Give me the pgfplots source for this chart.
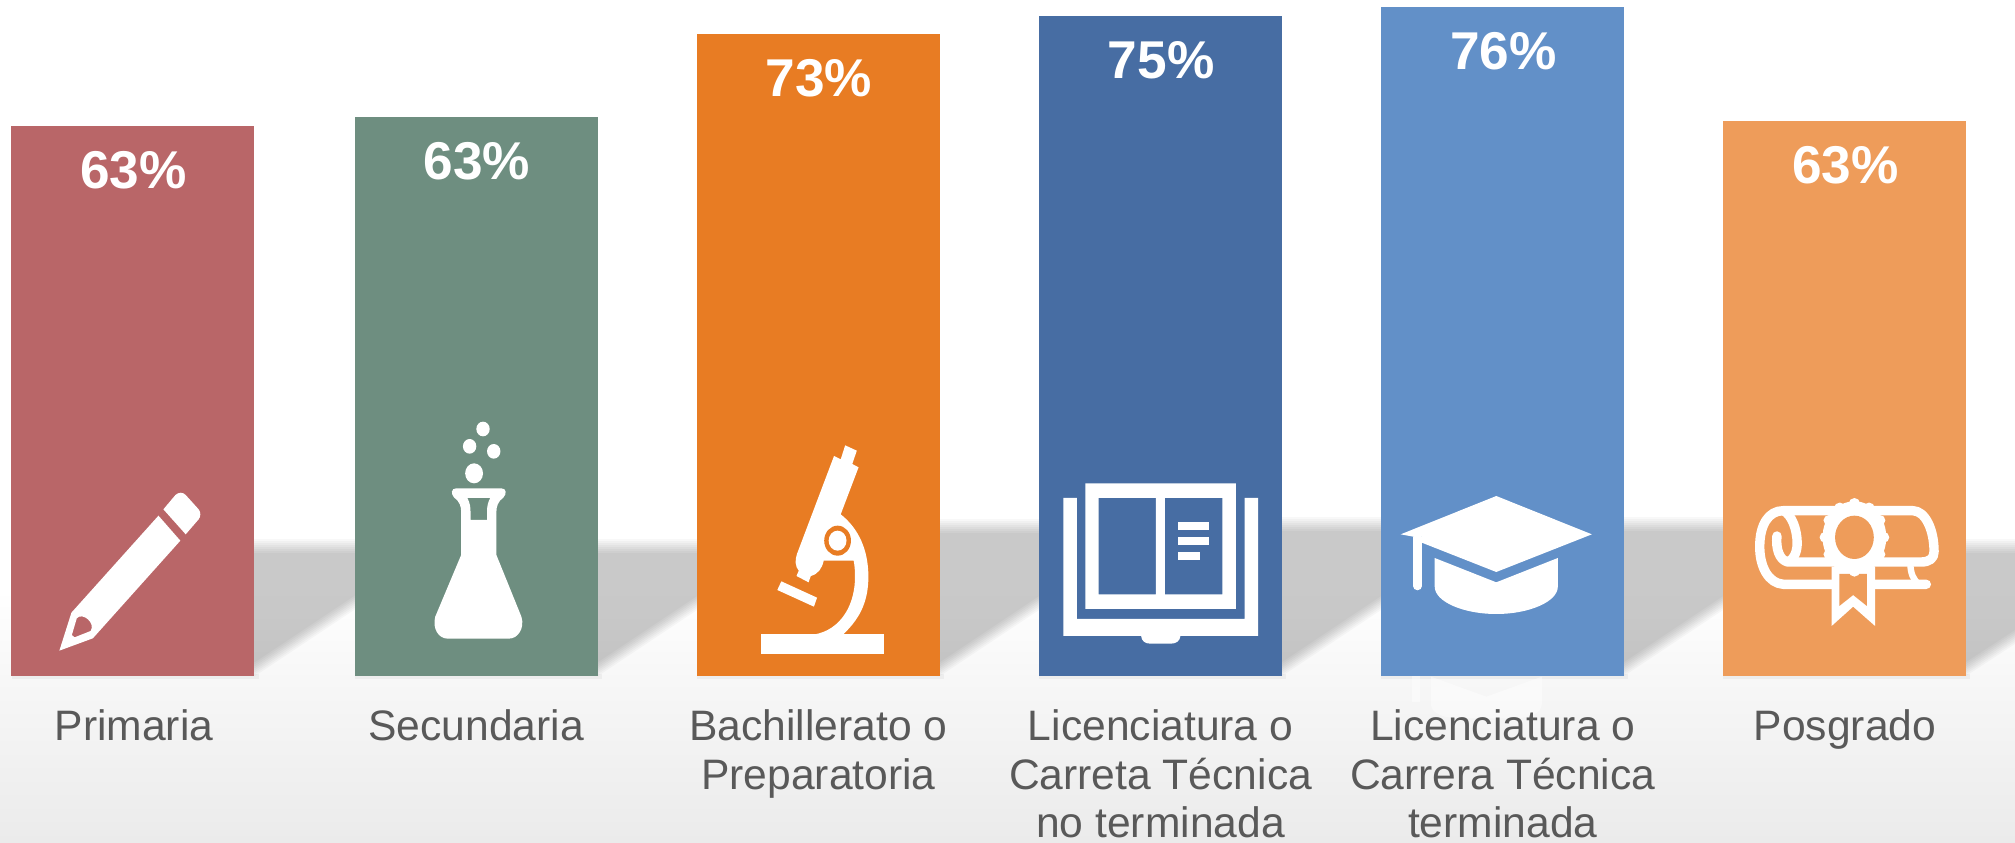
\documentclass[border=0pt]{standalone}
\usepackage{fontspec}
\setmainfont{Liberation Sans}
\usepackage{pgfplots}
\pgfplotsset{compat=1.18}
\definecolor{cA}{HTML}{B96668}
\definecolor{cB}{HTML}{6E8E80}
\definecolor{cC}{HTML}{E87C23}
\definecolor{cD}{HTML}{476DA3}
\definecolor{cE}{HTML}{6290C8}
\definecolor{cF}{HTML}{EE9C5A}
\definecolor{lab}{HTML}{595959}
\definecolor{bgA}{HTML}{F7F7F7}
\definecolor{bgB}{HTML}{EBEBEB}
\newcommand\gapshadow[3]{%
  \foreach \d in {0,2,...,14}{%
    \fill[black,opacity=0.0285] ({#1-4},{#3+\d}) -- (#2+2,{#3+\d}) -- (#2+2,{676-0.68*(#2-#1)-\d}) -- (#1,{676-\d}) -- ({#1-4},{676-\d}) -- cycle;
  }%
}
\begin{document}
\begin{tikzpicture}
\begin{scope}[shift={(0,337.75pt)},x=0.5pt,y=-0.5pt]
  \path[use as bounding box] (0,0) rectangle (2015,842);
  % page background
  \fill[white] (0,0) rectangle (2015,842);
  \shade[top color=white,bottom color=bgA] (0,590) rectangle (2015,680);
  \shade[top color=bgA,bottom color=bgB] (0,680) rectangle (2015,842);
  % cast shadows
  \gapshadow{255}{355}{539}
  \gapshadow{598}{697}{539}
  \gapshadow{940}{1039}{519}
  \gapshadow{1282}{1381}{517}
  \gapshadow{1624}{1723}{517}
  \gapshadow{1966}{2016}{539}
  % contact shadow below bars
  \foreach \a in {12,355,697,1039,1381,1723}{
    \fill[black,opacity=0.04] (\a,674) rectangle ({\a+247},679);
  }
  % faint reflection of the cap
  \begin{scope}[shift={(1340,420)},x=0.5pt/2.323,y=-0.5pt/3]
    \fill[white,opacity=0.45] (167,760) rectangle (185,845);
    \fill[white,opacity=0.45] (211,770) -- (340,830) -- (469,770) -- (469,850) .. controls (469,880) and (440,895) .. (400,895) -- (280,895) .. controls (240,895) and (211,880) .. (211,850) -- cycle;
  \end{scope}
\end{scope}

\begin{axis}[
  at={(0,0)},anchor=south west,
  scale only axis,width=1007.5pt,height=337.75pt,
  xmin=-0.3916,xmax=5.4967,ymin=0,ymax=76.85,
  axis x line=bottom,axis y line=none,
  x axis line style={draw=none,-},
  xtick={0,1,2,3,4,5},
  xticklabels={Primaria,Secundaria,{Bachillerato o\\Preparatoria},{Licenciatura o\\Carreta Técnica\\no terminada},{Licenciatura o\\Carrera Técnica\\terminada},Posgrado},
  major tick length=0pt,xtick style={draw=none},
  xticklabel style={align=center,text=lab,font=\fontsize{21.3}{24.25}\selectfont,anchor=north,inner sep=0pt,yshift=-17pt},
  ybar,bar width=121.5pt,bar shift=0pt,
  point meta=explicit symbolic,
  nodes near coords,
  every node near coord/.append style={anchor=center,yshift=-22pt,xshift=0.3pt,text=white,font=\bfseries\fontsize{26.6}{30}\selectfont},
]
\addplot[fill=cA,draw=none] coordinates {(-0.003,62.5) [63\%]};
\addplot[fill=cB,draw=none] coordinates {(1,63.5) [63\%]};
\addplot[fill=cC,draw=none] coordinates {(2,72.95) [73\%]};
\addplot[fill=cD,draw=none] coordinates {(3,75) [75\%]};
\addplot[fill=cE,draw=none] coordinates {(4,76) [76\%]};
\addplot[fill=cF,draw=none] coordinates {(5,63.1) [63\%]};
\end{axis}

\begin{scope}[shift={(0,337.75pt)},x=0.5pt,y=-0.5pt]
% pencil and flask
\begin{scope}[shift={(0,420)},x=0.5pt/2.24,y=-0.5pt/3]
  \fill[white,even odd rule] (133,692) -- (160,578) -- (355,287) -- (404,362) -- (208,655) -- cycle
    (161,645) -- (172,595) .. controls (185,575) and (215,610) .. (203,633) -- (167,652) -- cycle;
  \fill[white] (366,268) -- (393,225) .. controls (400,216) and (410,216) .. (416,225) -- (445,268) .. controls (450,276) and (450,290) .. (445,298) -- (416,343) -- cycle;
  \fill[white] (1082,27) ellipse [x radius=15,y radius=22];
  \fill[white] (1052,79) ellipse [x radius=15,y radius=22];
  \fill[white] (1106,94) ellipse [x radius=15,y radius=22];
  \fill[white] (1062,160) ellipse [x radius=20,y radius=30];
  \fill[white,even odd rule] (1022,205) -- (1123,205) .. controls (1135,205) and (1135,222) .. (1128,232) .. controls (1115,245) and (1112,260) .. (1112,275) -- (1112,405) -- (1168,590) .. controls (1176,625) and (1160,656) .. (1140,656) -- (1003,656) .. controls (982,656) and (968,625) .. (975,590) -- (1033,405) -- (1033,275) .. controls (1033,260) and (1030,245) .. (1017,232) .. controls (1010,222) and (1010,205) .. (1022,205) -- cycle
    (1047,234) -- (1098,234) .. controls (1092,250) and (1091,262) .. (1091,275) -- (1091,300) -- (1054,300) -- (1054,275) .. controls (1054,262) and (1053,250) .. (1047,234) -- cycle;
\end{scope}
% microscope and book
\begin{scope}[shift={(680,420)},x=0.5pt/2.24,y=-0.5pt/3]
  \fill[white] (181,643) rectangle (457,702);
  \fill[white] (370,76) -- (396,92) -- (386,132) -- (400,142) -- (360,283) .. controls (400,325) and (422,390) .. (422,470) .. controls (422,550) and (400,600) .. (364,645) -- (290,645) .. controls (350,640) and (392,570) .. (392,470) .. controls (392,450) and (391,435) .. (389,422) -- (322,422) .. controls (318,445) and (310,462) .. (293,468) -- (288,487) -- (261,468) -- (266,452) .. controls (258,440) and (257,420) .. (262,402) -- (345,108) -- (360,118) -- cycle;
  \fill[cC] (353,362) ellipse [x radius=30,y radius=45];
  \fill[white] (353,362) ellipse [x radius=20,y radius=30];
  \fill[white] (227,484) -- (307,533) -- (300,560) -- (218,510) -- cycle;
  \fill[white] (859,234) -- (889,234) -- (889,597) -- (1265,597) -- (1265,234) -- (1295,234) -- (1295,648) -- (1121,648) .. controls (1120,662) and (1112,671) .. (1100,671) -- (1053,671) .. controls (1041,671) and (1034,662) .. (1033,648) -- (859,648) -- cycle;
  \fill[white,even odd rule] (908,190) rectangle (1245,567) (938,234) rectangle (1066,523) (1086,234) rectangle (1215,523);
  \fill[white] (1116,306) rectangle (1185,330);
  \fill[white] (1116,351) rectangle (1185,375);
  \fill[white] (1116,396) rectangle (1165,420);
\end{scope}
% cap and diploma
\begin{scope}[shift={(1340,420)},x=0.5pt/2.323,y=-0.5pt/3]
  \fill[white] (363,228) -- (585,343) -- (363,456) -- (190,368) -- (190,350) -- (170,350) -- (141,343) -- cycle;
  \draw[white,line width=4.3pt,line cap=round] (180,352) -- (180,498);
  \fill[white] (220,414) -- (363,487) -- (506,414) -- (506,500) .. controls (506,545) and (440,582) .. (363,582) .. controls (286,582) and (220,545) .. (220,500) -- cycle;
  % diploma scroll
  \draw[white,line width=4.7pt,line cap=round,line join=round]
    (1362,493) -- (1030,493) .. controls (995,490) and (975,440) .. (975,380) .. controls (975,315) and (995,272) .. (1030,272) -- (1330,272) .. controls (1360,272) and (1380,330) .. (1380,395) .. controls (1380,415) and (1370,426) .. (1350,426) -- (1040,426) .. controls (1020,420) and (1012,385) .. (1015,348);
  \draw[white,line width=4.7pt] (1030,272) .. controls (1050,285) and (1062,330) .. (1062,370) .. controls (1062,400) and (1052,420) .. (1040,426);
  \draw[white,line width=3.2pt] (1325,430) .. controls (1325,460) and (1332,480) .. (1345,493);
  \fill[white] (1142,440) -- (1142,618) -- (1192,560) -- (1243,618) -- (1243,440) -- cycle;
  \fill[cF] (1160,462) -- (1160,558) -- (1192,525) -- (1224,558) -- (1224,462) -- cycle;
  \fill[white] (1195,352) ellipse [x radius=74,y radius=108];
  \foreach \t in {0,30,...,330}{
    \fill[white] ({1195+68*cos(\t)},{352+102*sin(\t)}) ellipse [x radius=13,y radius=16];
  }
  \fill[cF] (1195,352) ellipse [x radius=45,y radius=65];
\end{scope}
\end{scope}
\end{tikzpicture}
\end{document}
